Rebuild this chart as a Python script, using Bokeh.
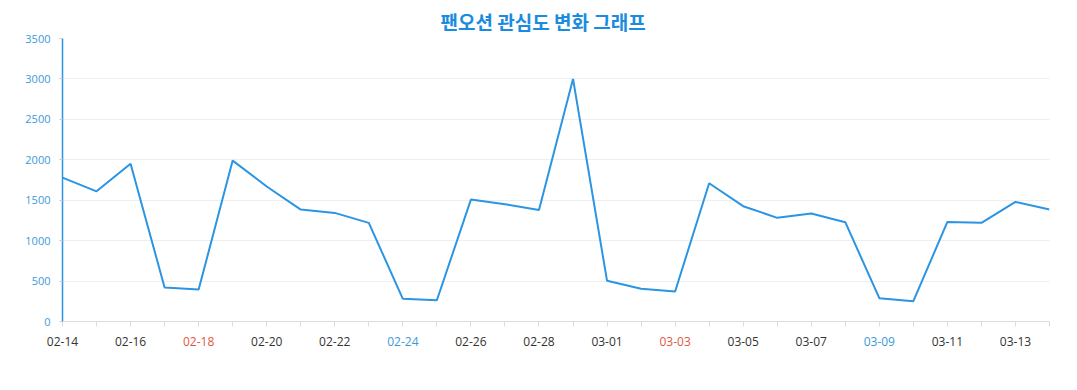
import pandas as pd
from bokeh.plotting import figure
from bokeh.models import ColumnDataSource, FixedTicker, Range1d
from bokeh.core.properties import value
from bokeh.embed import file_html
from bokeh.resources import INLINE

title_text = "팬오션 관심도 변화 그래프"
dates = ["2024-02-14", "2024-02-15", "2024-02-16", "2024-02-17", "2024-02-18",
         "2024-02-19", "2024-02-20", "2024-02-21", "2024-02-22", "2024-02-23",
         "2024-02-24", "2024-02-25", "2024-02-26", "2024-02-27", "2024-02-28",
         "2024-02-29", "2024-03-01", "2024-03-02", "2024-03-03", "2024-03-04",
         "2024-03-05", "2024-03-06", "2024-03-07", "2024-03-08", "2024-03-09",
         "2024-03-10", "2024-03-11", "2024-03-12", "2024-03-13", "2024-03-14"]
values = [1780, 1610, 1950, 420, 395,
          1990, 1670, 1384, 1343, 1220,
          280, 263, 1508, 1450, 1380,
          3000, 503, 404, 371, 1710,
          1426, 1282, 1335, 1228, 288,
          251, 1232, 1220, 1479, 1384]
y_ticks = [0, 500, 1000, 1500, 2000, 2500, 3000, 3500]

dt = pd.to_datetime(dates)
xs = list(range(len(dates)))
src = ColumnDataSource(dict(x=xs, y=values))

def label_color(d):
    if d.weekday() == 5:
        return "#3a9ad9"
    if d.weekday() == 6:
        return "#e0573f"
    return "#333333"

lab_idx = xs[::2]
lab_src = ColumnDataSource(dict(
    x=lab_idx,
    y=[1] * len(lab_idx),
    text=[dt[i].strftime("%m-%d") for i in lab_idx],
    color=[label_color(dt[i]) for i in lab_idx],
))

W, LEFT, RIGHT = 1061, 62, 12
n = len(dates) - 1

p = figure(width=W, height=331, output_backend="svg", toolbar_location=None,
           x_range=Range1d(0, n), y_range=Range1d(0, 3500),
           min_border_left=LEFT, min_border_right=RIGHT, min_border_top=38,
           min_border_bottom=10)
p.outline_line_color = None
p.background_fill_color = "white"
p.border_fill_color = "white"

p.title.text = title_text
p.title.align = "left"
p.title.offset = 378
p.title.text_font = "Noto Sans CJK KR"
p.title.text_font_size = "19px"
p.title.text_font_style = "bold"
p.title.text_color = "#1a8ce0"
p.title.standoff = 8

p.line("x", "y", source=src, line_color="#2b95e3", line_width=2)

# x axis
p.xaxis.ticker = FixedTicker(ticks=xs)
p.xaxis.major_label_overrides = {i: "" for i in xs}
p.xaxis.major_label_standoff = 0
p.xaxis.axis_line_color = "#dcdcdc"
p.xaxis.major_tick_line_color = "#dcdcdc"
p.xaxis.major_tick_out = 5
p.xaxis.major_tick_in = 0
p.xaxis.minor_tick_line_color = None
p.xgrid.grid_line_color = None

# y axis
p.yaxis.ticker = FixedTicker(ticks=y_ticks)
p.yaxis.axis_line_color = "#2b95e3"
p.yaxis.axis_line_width = 1.5
p.yaxis.major_tick_line_color = "#cccccc"
p.yaxis.major_tick_out = 3
p.yaxis.major_tick_in = 0
p.yaxis.minor_tick_line_color = None
p.yaxis.major_label_text_color = "#3a9ad9"
p.yaxis.major_label_text_font = "Open Sans"
p.yaxis.major_label_text_font_size = "11px"
p.yaxis.major_label_standoff = 9
p.ygrid.grid_line_color = "#eeeeee"

# date labels (individually coloured) in a separate full-width strip below
# the chart; its x range is widened so its scale matches the chart's frame
ppu = (W - LEFT - RIGHT) / n
q = figure(width=W, height=41, output_backend="svg", toolbar_location=None,
           x_range=Range1d(-LEFT / ppu, n + RIGHT / ppu), y_range=Range1d(0, 1),
           x_axis_location=None, y_axis_location=None,
           min_border_left=0, min_border_right=0, min_border_top=5,
           min_border_bottom=0)
q.outline_line_color = None
q.grid.grid_line_color = None
q.text("x", "y", text="text", text_color="color", source=lab_src,
       text_align="center", text_baseline="top",
       text_font=value("Open Sans"), text_font_size="12px")

open("out.html", "w").write(file_html([p, q], INLINE))
